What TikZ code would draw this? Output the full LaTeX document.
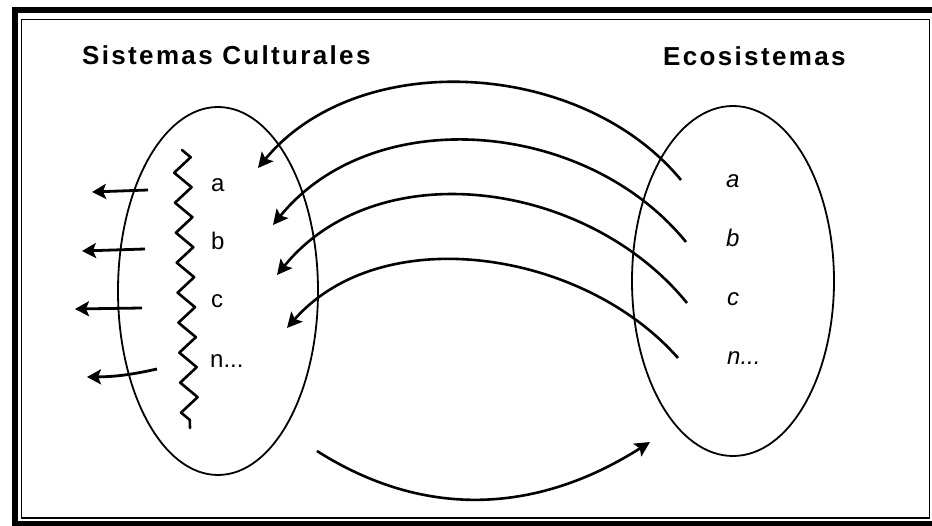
\documentclass[tikz,border=0pt]{standalone}
\usepackage{fontspec}
\setmainfont{Liberation Sans}
\usetikzlibrary{shapes.geometric,arrows.meta,decorations.pathmorphing}

\begin{document}
\begin{tikzpicture}[x=1pt,y=-1pt]
  \tikzset{SetStyle/.style = {
    shape         = ellipse,
    draw          = black,
    line width    = 1.8pt,
    inner sep     = 0pt,
    outer sep     = 0pt
    }
  }
  \tikzset{TitleStyle/.style = {
    anchor        = base west,
    inner sep     = 0pt,
    text          = black,
    font          = \fontsize{26}{30}\selectfont\bfseries\addfontfeature{LetterSpace=9}
    }
  }
  \tikzset{ItemStyle/.style = {
    anchor        = base west,
    inner sep     = 0pt,
    text          = black,
    font          = \fontsize{24}{28}\selectfont
    }
  }
  \tikzset{EcoItemStyle/.style = {
    ItemStyle,
    font          = \fontsize{24}{28}\selectfont\itshape
    }
  }
  \tikzset{ArcStyle/.style = {
    draw          = black,
    line width    = 2.6pt,
    -{Stealth[length=15pt,width=15pt,inset=3pt]}
    }
  }
  \tikzset{OutStyle/.style = {
    draw          = black,
    line width    = 2.8pt,
    -{Stealth[length=14pt,width=15pt,inset=3pt]}
    }
  }
  \tikzset{WaveStyle/.style = {
    draw          = black,
    line width    = 2.6pt,
    line join     = round,
    line cap      = round,
    decorate,
    decoration    = {zigzag, segment length=30pt, amplitude=8.5pt}
    }
  }

  \useasboundingbox (0,0) rectangle (932,526);
  \draw[line width=6pt] (15,10) rectangle (936,524);
  \draw[line width=1.8pt] (21.5,19.5) rectangle (929.5,518);

  \node[TitleStyle](T1) at (82,65) {Sistemas Culturales};
  \node[TitleStyle](T2) at (663,66) {Ecosistemas};

  \node[SetStyle, minimum width=200pt, minimum height=368pt](Cult) at (218,291) {};
  \node[SetStyle, minimum width=202pt, minimum height=350pt](Eco) at (733,281) {};

  \node[ItemStyle](Ca) at (211,192) {a};
  \node[ItemStyle](Cb) at (211,250) {b};
  \node[ItemStyle](Cc) at (211,308) {c};
  \node[ItemStyle](Cn) at (210,368) {n...};
  \node[EcoItemStyle](Ea) at (726,188) {a};
  \node[EcoItemStyle](Eb) at (726,247) {b};
  \node[EcoItemStyle](Ec) at (727,306) {c};
  \node[EcoItemStyle](En) at (727,365) {n...};

  \coordinate (Sa) at (681,180);
  \coordinate (Sb) at (686,242);
  \coordinate (Sc) at (687,303);
  \coordinate (Sn) at (678,358);
  \coordinate (Ka) at (258,168);
  \coordinate (Kb) at (273,225);
  \coordinate (Kc) at (277,275);
  \coordinate (Kn) at (287,328);
  \draw[ArcStyle](Sa) .. controls (581,59) and (358,47) .. (Ka);
  \draw[ArcStyle](Sb) .. controls (586,119) and (373,102) .. (Kb);
  \draw[ArcStyle](Sc) .. controls (587,180) and (377,152) .. (Kc);
  \draw[ArcStyle](Sn) .. controls (583,250) and (382,220) .. (Kn);

  \coordinate (Ba) at (317,451);
  \coordinate (Be) at (650,442);
  \draw[ArcStyle](Ba) .. controls (427,521) and (540,512) .. (Be);

  \coordinate (W1) at (182,150);
  \coordinate (W2) at (190,428);
  \draw[WaveStyle](W1) -- (W2);

  \coordinate (Oa) at (148,190);
  \coordinate (Ob) at (145,249);
  \coordinate (Oc) at (142,308);
  \coordinate (On) at (157,369);
  \coordinate (Pa) at (92,192);
  \coordinate (Pb) at (82,251);
  \coordinate (Pc) at (75,309);
  \coordinate (Pn) at (87,377);
  \draw[OutStyle](Oa) -- (Pa);
  \draw[OutStyle](Ob) -- (Pb);
  \draw[OutStyle](Oc) -- (Pc);
  \draw[OutStyle](On) to[bend left=6] (Pn);

\end{tikzpicture}
\end{document}
